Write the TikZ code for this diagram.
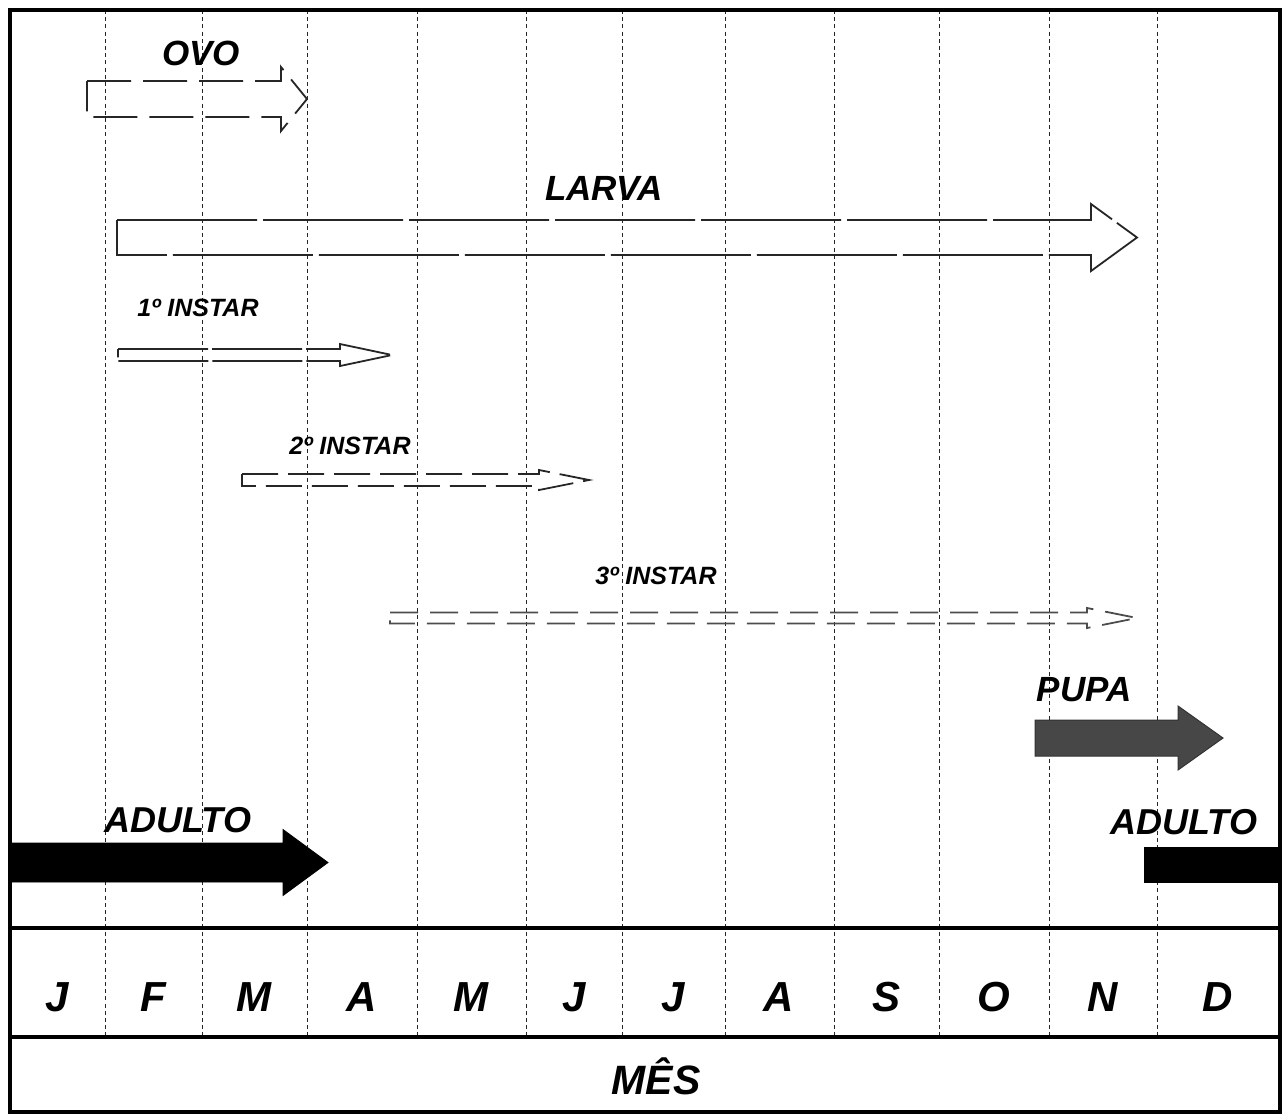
\documentclass[tikz,border=0pt]{standalone}
\usepackage{fontspec}
\setmainfont{Liberation Sans}
\newcommand\blockarr[7]{%
  \draw[#1] ({#2},{#3-#4}) -- ({#5},{#3-#4}) -- ({#5},{#3-#6}) -- ({#7},{#3})
    -- ({#5},{#3+#6}) -- ({#5},{#3+#4}) -- ({#2},{#3+#4}) -- cycle;}
\begin{document}
\begin{tikzpicture}[x=0.5pt,y=-0.5pt,
  gridline/.style={line width=0.5pt, black!85, dash pattern=on 2pt off 1.6pt},
  framel/.style={line width=1.6pt},
  outl/.style={line width=0.9pt, black!85},
  lbl/.style={inner sep=0pt, font=\bfseries\itshape},
  big/.style={lbl, font=\bfseries\itshape\fontsize{17.5pt}{20pt}\selectfont},
  small/.style={lbl, font=\bfseries\itshape\fontsize{12.5pt}{15pt}\selectfont},
  month/.style={lbl, font=\bfseries\itshape\fontsize{21pt}{24pt}\selectfont}]
\useasboundingbox (0,0) rectangle (1284,1116);
% grid lines
\foreach \gx in {105,202,307,417,526,622,725,834,939,1049,1157}
  \draw[gridline] (\gx,10) -- (\gx,1037);
% outline arrows
\blockarr{outl, dash pattern=on 22pt off 6pt}{87}{99}{18}{281}{32}{307}
\blockarr{outl, dash pattern=on 70pt off 3pt}{117}{237.5}{17.5}{1091}{33.5}{1137}
\blockarr{outl, dash pattern=on 45pt off 2pt}{118}{355}{6}{340}{11}{392}
\blockarr{outl, dash pattern=on 18pt off 5pt}{242}{480}{6}{539}{10}{589}
\blockarr{outl, black!70, dash pattern=on 14pt off 6pt}{390}{618}{5.5}{1087}{10}{1137}
% filled arrows
\blockarr{fill=black!72, draw=black!80, line width=0.5pt}{1035}{738}{18}{1178}{32}{1223}
\blockarr{fill=black, draw=black}{10}{862.5}{19.5}{283}{33}{328}
\fill[black] (1144,847) rectangle (1280,883);
% labels
\node[big] (ovo) at (201,53) {OVO};
\node[big] (larva) at (604,188) {LARVA};
\node[small] (i1) at (198,308) {1º INSTAR};
\node[small] (i2) at (350,446) {2º INSTAR};
\node[small] (i3) at (656,576) {3º INSTAR};
\node[big] (pupa) at (1084,690) {PUPA};
\node[big, font=\bfseries\itshape\fontsize{18pt}{21pt}\selectfont] (ad1) at (178,820) {ADULTO};
\node[big, font=\bfseries\itshape\fontsize{18pt}{21pt}\selectfont] (ad2) at (1184,822) {ADULTO};
% months
\foreach \mx/\ml [count=\i] in {57/J,153/F,254/M,362/A,471/M,574/J,673/J,779/A,886/S,994/O,1103/N,1218/D}
  \node[month] (m\i) at (\mx,997) {\ml};
\node[month, font=\bfseries\itshape\fontsize{20.5pt}{24pt}\selectfont, text height=15pt] (mes) at (656,1080) {MÊS};
% frame and row lines
\draw[framel] (10,10) rectangle (1280,1112);
\draw[framel] (10,928) -- (1280,928);
\draw[framel] (10,1037) -- (1280,1037);
\end{tikzpicture}
\end{document}
